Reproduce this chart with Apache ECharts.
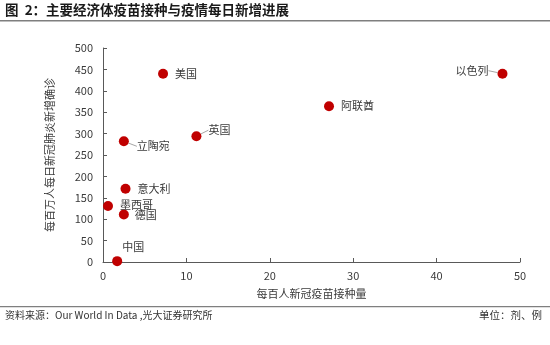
<!DOCTYPE html>
<html>
<head>
<meta charset="utf-8">
<script src="https://cdn.jsdelivr.net/npm/echarts@6/dist/echarts.min.js"></script>
<style>
  html, body { margin: 0; padding: 0; background: #fff; }
  #chart { width: 550px; height: 345px; }
</style>
</head>
<body>
<div id="chart"></div>
<script>
// Economies and their vaccination / daily new case figures
const countries = ['美国', '英国', '立陶宛', '以色列', '阿联酋', '意大利', '墨西哥', '德国', '中国'];
const dosesPer100 = [7.2, 11.2, 2.5, 47.9, 27.1, 2.7, 0.6, 2.5, 1.7];
const casesPerMillion = [440, 294, 282, 440, 364, 171, 131, 111, 2];

const xTicks = [0, 10, 20, 30, 40, 50];
const yTicks = [0, 50, 100, 150, 200, 250, 300, 350, 400, 450, 500];

// Label placement per economy (offset from the default right-hand position, in pixels)
const labelShift = {
  '美国':  { dx: 0,   dy: 0,   line: false },
  '英国':  { dx: 0,   dy: -6,  line: true },
  '立陶宛': { dx: 1,   dy: 5,   line: true },
  '以色列': { dx: -59, dy: -3,  line: true },
  '阿联酋': { dx: 0,   dy: 0,   line: false },
  '意大利': { dx: 0,   dy: 0,   line: false },
  '墨西哥': { dx: 0,   dy: -1,  line: false },
  '德国':  { dx: -1,  dy: 0,   line: false },
  '中国':  { dx: -7,  dy: -14, line: false }
};

const FONT = '"Noto Sans CJK SC", "Noto Sans", sans-serif';
const TXT = '#3a3a3a';
const AXIS = '#595959';

const points = countries.map((c, i) => ({
  name: c,
  value: [dosesPer100[i], casesPerMillion[i]],
  labelLine: { show: labelShift[c].line }
}));

const chart = echarts.init(document.getElementById('chart'), null, { renderer: 'canvas' });
chart.setOption({
  animation: false,
  backgroundColor: '#fff',
  textStyle: { fontFamily: FONT },
  graphic: [
    { type: 'text', left: 5, top: 3,
      style: { text: '图  2：主要经济体疫苗接种与疫情每日新增进展', fontSize: 13.5, fontWeight: 'bold', fontFamily: FONT, fill: '#1a1a1a' } },
    { type: 'rect', shape: { x: 0, y: 20, width: 550, height: 1.5 }, style: { fill: '#7f7f7f' } },
    { type: 'rect', shape: { x: 0, y: 306, width: 550, height: 1.2 }, style: { fill: '#7f7f7f' } },
    { type: 'text', left: 5, top: 310,
      style: { text: '资料来源：Our World In Data ,光大证券研究所', fontSize: 10, fontFamily: FONT, fill: '#333' } },
    { type: 'text', right: 8, top: 310,
      style: { text: '单位：剂、例', fontSize: 10.5, fontFamily: FONT, fill: '#333' } }
  ],
  grid: { left: 103, right: 30, top: 48, bottom: 83 },
  xAxis: {
    type: 'value', min: xTicks[0], max: xTicks[xTicks.length - 1], interval: 10,
    name: '每百人新冠疫苗接种量', nameLocation: 'middle', nameGap: 26,
    nameTextStyle: { fontSize: 11, color: TXT, fontFamily: FONT },
    axisLine: { show: true, lineStyle: { color: AXIS, width: 1 } },
    axisTick: { show: true, inside: true, length: 4, lineStyle: { color: AXIS } },
    axisLabel: { fontSize: 11, color: TXT, margin: 8, fontFamily: FONT },
    splitLine: { show: false }
  },
  yAxis: {
    type: 'value', min: yTicks[0], max: yTicks[yTicks.length - 1], interval: 50,
    name: '每百万人每日新冠肺炎新增确诊', nameLocation: 'middle', nameGap: 48, nameRotate: 90,
    nameTextStyle: { fontSize: 11, color: TXT, fontFamily: FONT },
    axisLine: { show: true, lineStyle: { color: AXIS, width: 1 } },
    axisTick: { show: true, inside: true, length: 4, lineStyle: { color: AXIS } },
    axisLabel: { fontSize: 11, color: TXT, margin: 10, fontFamily: FONT },
    splitLine: { show: false }
  },
  series: [{
    type: 'scatter',
    data: points,
    symbolSize: 10,
    itemStyle: { color: '#C00000', opacity: 1 },
    label: {
      show: true, position: 'right', distance: 7,
      formatter: p => p.name,
      fontSize: 11, color: TXT, fontFamily: FONT
    },
    labelLine: { lineStyle: { color: '#a6a6a6', width: 1 } },
    labelLayout: function (p) {
      const s = labelShift[countries[p.dataIndex]];
      return { dx: s.dx, dy: s.dy };
    }
  }]
});
</script>
</body>
</html>
